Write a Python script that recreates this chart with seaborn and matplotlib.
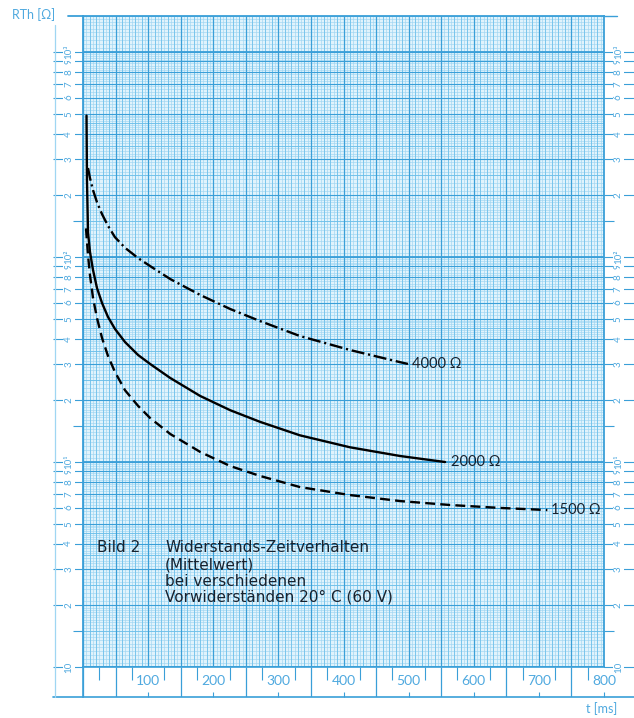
import numpy as np
import pandas as pd
import matplotlib
matplotlib.use("Agg")
import matplotlib.pyplot as plt
from matplotlib.lines import Line2D
import seaborn as sns

# ---------------- data ----------------
t_4000 = [7.7, 10.7, 15.4, 21.5, 29.2, 38.4, 49.1, 64.5, 84.5, 103, 134, 180, 226, 272, 333, 410, 487, 499]
r_4000 = [272, 243, 212, 185, 162, 142, 125, 111, 98.9, 90.4, 78.1, 65.3, 55.8, 48.7, 41.2, 35.2, 30.7, 30.1]

t_2000 = [5.4, 6.1, 7.7, 10.7, 15.4, 21.5, 29.2, 38.4, 49.1, 64.5, 84.5, 103, 134, 180, 226, 272, 333, 410, 487, 556]
r_2000 = [490, 238, 132, 106, 86.4, 70.6, 59.7, 51.0, 44.6, 38.5, 33.3, 30.1, 25.7, 21.0, 17.9, 15.7, 13.5, 11.8, 10.7, 10.0]

t_1500 = [4.6, 7.7, 10.7, 15.4, 21.5, 29.2, 38.4, 49.1, 64.5, 84.5, 103, 134, 180, 226, 272, 333, 410, 487, 564, 641, 713]
r_1500 = [138, 102, 81.7, 63.1, 50.4, 40.3, 32.9, 27.5, 22.4, 18.8, 16.4, 13.7, 11.2, 9.56, 8.55, 7.55, 6.90, 6.45, 6.17, 5.97, 5.83]

series_names = ["4000 Ω", "2000 Ω", "1500 Ω"]
x_tick_values = [100, 200, 300, 400, 500, 600, 700, 800]
y_label_values = [1, 2, 3, 4, 5, 6, 7, 8, 9, 10, 20, 30, 40, 50, 60, 70, 80, 90,
                  100, 200, 300, 400, 500, 600, 700, 800, 900, 1000]
y_label_texts = ["10", "2", "3", "4", "5", "6", "7", "8", "9",
                 "10¹", "2", "3", "4", "5", "6", "7", "8", "9",
                 "10²", "2", "3", "4", "5", "6", "7", "8", "9",
                 "10³"]
caption_head = "Bild 2"
caption_lines = ["Widerstands-Zeitverhalten", "(Mittelwert)", "bei verschiedenen",
                 "Vorwiderständen 20° C (60 V)"]

df = pd.concat([
    pd.DataFrame({"t": t_4000, "R": r_4000, "series": series_names[0]}),
    pd.DataFrame({"t": t_2000, "R": r_2000, "series": series_names[1]}),
    pd.DataFrame({"t": t_1500, "R": r_1500, "series": series_names[2]}),
], ignore_index=True)

# ---------------- style ----------------
sns.set_theme(style="white")
plt.rcParams["font.family"] = ["Lato", "DejaVu Sans"]

W, H = 634, 718
def fx(px): return px / W
def fy(py): return 1 - py / H

BLUE_D = "#3a9fd8"
BLUE_M = "#6bbfea"
BLUE_L = "#9fd6f2"
TXT_B = "#4fa9df"
INK = "#18222e"

fig = plt.figure(figsize=(W / 100, H / 100), dpi=100)
fig.patch.set_facecolor("white")

L, R_, T, B = 83, 604, 16, 667
ax = fig.add_axes([fx(L), fy(B), (R_ - L) / W, (B - T) / H])
ax.set_facecolor("#e0f3fc")
ax.set_yscale("log")
ax.set_xlim(0, 800)
ax.set_ylim(1, 1500)

# ---------------- graph paper grid ----------------
x_minor = np.arange(0, 801, 5)
x_med = np.arange(0, 801, 10)
x_major = np.arange(0, 801, 50)
ax.vlines(x_minor, 1, 1500, color=BLUE_L, lw=0.45, zorder=0.5)
ax.vlines(x_med, 1, 1500, color=BLUE_M, lw=0.55, zorder=0.6)
ax.vlines(x_major, 1, 1500, color=BLUE_D, lw=0.9, zorder=0.7)

y_minor, y_med, y_major, y_dec = [], [], [], []
for dec in [1, 10, 100, 1000]:
    y_minor += list(dec * np.arange(1, 2, 0.05)) + list(dec * np.arange(2, 5, 0.1)) + list(dec * np.arange(5, 10, 0.2))
    y_med += list(dec * np.array([1.5, 2.5, 3.5, 4.5]))
    y_major += list(dec * np.arange(1, 10))
    y_dec.append(dec)
y_minor = [v for v in y_minor if v <= 1500]
y_med = [v for v in y_med if v <= 1500]
y_major = [v for v in y_major if v <= 1500]
ax.hlines(y_minor, 0, 800, color=BLUE_L, lw=0.45, zorder=0.5)
ax.hlines(y_med, 0, 800, color=BLUE_M, lw=0.6, zorder=0.6)
ax.hlines(y_major, 0, 800, color=BLUE_D, lw=0.8, zorder=0.7)
ax.hlines(y_dec, 0, 800, color=BLUE_D, lw=1.3, zorder=0.8)

for s in ax.spines.values():
    s.set_color(BLUE_D)
    s.set_linewidth(1.3)

# ---------------- curves ----------------
lw = 1.7
sns.lineplot(data=df, x="t", y="R", hue="series", style="series",
             palette={n: "black" for n in series_names},
             dashes={series_names[0]: (5.5, 1.6, 0.9, 1.6),
                     series_names[1]: "",
                     series_names[2]: (4.2, 2.2)},
             sort=False, estimator=None, legend=False, linewidth=lw, ax=ax, zorder=5)

ax.text(t_4000[-1] + 6, r_4000[-1], series_names[0], ha="left", va="center",
        fontsize=10.5, color=INK, zorder=6)
ax.text(t_2000[-1] + 9, r_2000[-1], series_names[1], ha="left", va="center",
        fontsize=10.5, color=INK, zorder=6)
ax.text(t_1500[-1] + 6, r_1500[-1], series_names[2], ha="left", va="center",
        fontsize=10.5, color=INK, zorder=6)

# ---------------- y ticks (left & right) ----------------
ax.set_xlabel("")
ax.set_ylabel("")
ax.set_xticks([])
ax.set_yticks(y_label_values)
ax.set_yticklabels(y_label_texts)
ax.set_yticks([1.5, 15, 150], minor=True)
ax.yaxis.set_minor_formatter(matplotlib.ticker.NullFormatter())
ax.tick_params(axis="y", which="major", left=True, right=True, labelleft=True, labelright=True,
               direction="out", length=21.6, width=0.8, color=BLUE_D, labelsize=7,
               labelcolor=TXT_B, pad=-14.5)
ax.tick_params(axis="y", which="minor", left=True, right=True, direction="out",
               length=7.5, width=0.8, color=BLUE_D)
for tk in ax.yaxis.get_major_ticks():
    for lab in (tk.label1, tk.label2):
        lab.set_rotation(90)
        lab.set_va("center")
        lab.set_bbox(dict(facecolor="white", edgecolor="none", pad=1.0))

# ---------------- bottom scale strip ----------------
axs = fig.add_axes([fx(L), fy(697), (R_ - L) / W, (697 - B) / H])
axs.set_xlim(0, 800)
axs.set_ylim(0, 1)
axs.set_facecolor("white")
axs.set_yticks([])
for k in ["bottom", "right"]:
    axs.spines[k].set_visible(False)
for k in ["top", "left"]:
    axs.spines[k].set_color(BLUE_D)
    axs.spines[k].set_linewidth(1.2)
axs.vlines([0, 50, 150, 250, 350, 450, 550, 650, 750], 0, 1, color=BLUE_D, lw=0.9)
axs.set_xticks(x_tick_values)
axs.set_xticklabels([str(v) for v in x_tick_values])
axs.set_xticks(np.arange(25, 800, 50), minor=True)
axs.tick_params(axis="x", which="major", bottom=True, top=False, direction="in",
                length=3.6, width=0.8, color=BLUE_D, labelsize=10, labelcolor=TXT_B, pad=-15.5)
axs.tick_params(axis="x", which="minor", bottom=False, top=True, direction="in",
                length=9.4, width=0.8, color=BLUE_D)

# ---------------- paper frame lines ----------------
fig.add_artist(Line2D([fx(53), fx(634)], [fy(697), fy(697)], color=BLUE_D, lw=1.2))
fig.add_artist(Line2D([fx(55), fx(55)], [fy(25), fy(697)], color=BLUE_L, lw=0.9))
fig.add_artist(Line2D([fx(68), fx(L)], [fy(T), fy(T)], color=BLUE_D, lw=1.3))
fig.add_artist(Line2D([fx(R_), fx(617)], [fy(T), fy(T)], color=BLUE_D, lw=1.0))

# ---------------- texts ----------------
fig.text(fx(12), fy(15), "RTh [Ω]", ha="left", va="center", fontsize=9, color=TXT_B)
fig.text(fx(586), fy(709), "t [ms]", ha="left", va="center", fontsize=9, color=TXT_B)

cap_font = ["DejaVu Sans"]
fig.text(fx(97), fy(548), caption_head, ha="left", va="center", fontsize=11,
         color=INK, family=cap_font)
for i, line in enumerate(caption_lines):
    fig.text(fx(165), fy(548 + 16.5 * i), line, ha="left", va="center", fontsize=11,
             color=INK, family=cap_font)

fig.savefig("out.png", dpi=100)
